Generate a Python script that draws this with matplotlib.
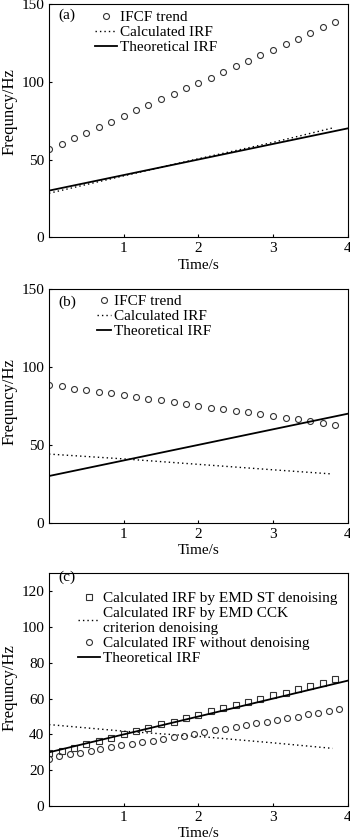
import matplotlib
matplotlib.use("Agg")
import matplotlib.pyplot as plt

plt.rcParams['font.family'] = ['Liberation Serif', 'DejaVu Serif']
plt.rcParams['font.size'] = 11

# sample times of the marker series
t_a = [0, 0.17, 0.33, 0.5, 0.67, 0.83, 1.0, 1.17, 1.33, 1.5, 1.67, 1.83,
       2.0, 2.17, 2.33, 2.5, 2.67, 2.83, 3.0, 3.17, 3.33, 3.5, 3.67, 3.83]
t_raw = [0, 0.14, 0.28, 0.42, 0.56, 0.69, 0.83, 0.97, 1.11, 1.25, 1.39, 1.53,
         1.67, 1.81, 1.94, 2.08, 2.22, 2.36, 2.5, 2.64, 2.78, 2.92, 3.06,
         3.19, 3.33, 3.47, 3.61, 3.75, 3.89]
t_calc = [0, 1, 2, 3, 3.8]

# theoretical IRF
t_theo = [0, 4]
f_theo = [30, 70]

# panel (a)
ifcf_a = [56.5, 60.3, 63.7, 66.8, 71.0, 74.4, 77.8, 81.6, 85.2, 88.8, 92.0, 96.2,
          99.4, 102.5, 106.5, 110.1, 113.5, 117.3, 120.5, 124.5, 127.8, 131.6, 135.0, 138.4]
calc_a = [28.3, 39.5, 50.5, 61.0, 70.3]

# panel (b)
ifcf_b = [88.3, 87.6, 86.1, 85.3, 84.0, 83.1, 81.9, 81.0, 79.7, 78.6, 77.3, 76.3,
          75.2, 73.9, 73.1, 71.8, 70.9, 69.8, 68.6, 67.5, 66.4, 65.4, 63.9, 62.8]
calc_b = [44.1, 41.0, 37.5, 34.0, 31.3]

# panel (c)
st_c = [29.5, 30.6, 32.5, 34.7, 36.2, 37.8, 40.3, 41.8, 43.6, 45.6, 47.1, 49.1,
        51.0, 53.2, 54.8, 56.5, 58.0, 59.8, 61.9, 63.3, 65.2, 67.0, 68.9, 70.7]
cck_c = [45.5, 41.8, 38.9, 35.3, 32.2]
raw_c = [26.5, 27.7, 28.8, 29.7, 30.8, 31.7, 32.8, 33.9, 34.4, 35.5, 36.5, 37.6,
         38.3, 39.0, 40.3, 41.2, 42.5, 43.2, 44.3, 45.2, 46.1, 47.2, 48.0, 49.4,
         49.8, 51.3, 52.2, 53.2, 54.1]

dot = (0, (1, 2.2))
mk = dict(linestyle='none', markerfacecolor='none', markeredgecolor='#333333',
          markeredgewidth=0.8, markersize=4.3)

fig = plt.figure(figsize=(3.5, 8.39), dpi=100)

rects = [[0.140, 0.7172, 0.853, 0.2780],
         [0.140, 0.3770, 0.853, 0.2782],
         [0.140, 0.0393, 0.853, 0.2774]]
axes = [fig.add_axes(r) for r in rects]


def style(ax, ylim, yticks, tag, tag_y, lab_y):
    ax.set_xlim(0, 4)
    ax.set_ylim(*ylim)
    ax.set_xticks([1, 2, 3, 4])
    ax.set_yticks(yticks)
    ax.tick_params(direction='in', length=2.5, width=0.8, pad=3.5)
    ax.set_xlabel('Time/s', labelpad=2.5)
    ax.set_ylabel('Frequncy/Hz', fontsize=12)
    ax.yaxis.set_label_coords(-0.105, lab_y)
    ax.text(0.03, tag_y, tag, transform=ax.transAxes, va='center', ha='left')
    for s in ax.spines.values():
        s.set_linewidth(0.8)


leg_kw = dict(loc='upper left', frameon=False, borderpad=0, borderaxespad=0,
              handletextpad=0.2, labelspacing=0.1, numpoints=1)

# (a)
ax = axes[0]
ax.plot(t_a, ifcf_a, marker='o', label='IFCF trend', **mk)
ax.plot(t_calc, calc_a, color='black', lw=1.0, linestyle=dot, label='Calculated IRF')
ax.plot(t_theo, f_theo, color='black', lw=1.3, label='Theoretical IRF')
style(ax, (0, 150), [0, 50, 100, 150], '(a)', 0.953, 0.54)
ax.legend(bbox_to_anchor=(0.154, 0.973), handlelength=1.45, **leg_kw)

# (b)
ax = axes[1]
ax.plot(t_a, ifcf_b, marker='o', label='IFCF trend', **mk)
ax.plot(t_calc, calc_b, color='black', lw=1.0, linestyle=dot, label='Calculated IRF')
ax.plot(t_theo, f_theo, color='black', lw=1.3, label='Theoretical IRF')
style(ax, (0, 150), [0, 50, 100, 150], '(b)', 0.946, 0.517)
ax.legend(bbox_to_anchor=(0.16, 0.979), handlelength=0.95, **leg_kw)

# (c)
ax = axes[2]
ax.plot(t_a, st_c, marker='s', label='Calculated IRF by EMD ST denoising', **mk)
ax.plot(t_calc, cck_c, color='black', lw=1.0, linestyle=dot,
        label='Calculated IRF by EMD CCK\ncriterion denoising')
ax.plot(t_raw, raw_c, marker='o', label='Calculated IRF without denoising', **mk)
ax.plot(t_theo, f_theo, color='black', lw=1.3, label='Theoretical IRF')
style(ax, (0, 130), [0, 20, 40, 60, 80, 100, 120], '(c)', 0.984, 0.507)
ax.legend(bbox_to_anchor=(0.097, 0.922), handlelength=1.45, **leg_kw)

fig.savefig('out.png', dpi=100)
